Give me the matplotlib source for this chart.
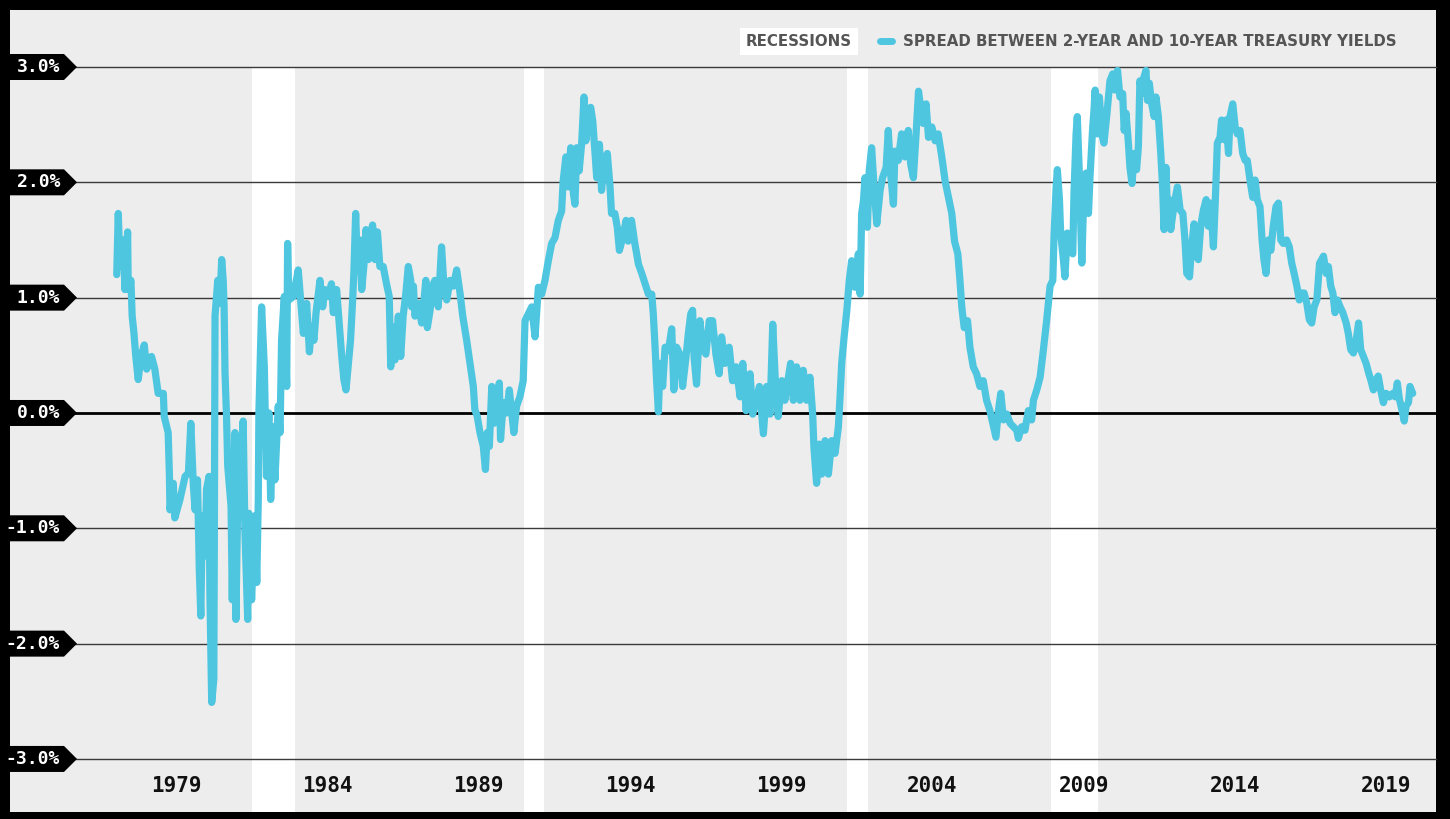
import matplotlib
matplotlib.use("Agg")
import matplotlib.pyplot as plt
from matplotlib.patches import Polygon, Rectangle
from matplotlib.lines import Line2D
import matplotlib.transforms as mtransforms

# spread between 2-year and 10-year treasury yields (percentage points)
spread_dates = [
    1977.03, 1977.08, 1977.14, 1977.25, 1977.30, 1977.39, 1977.41, 1977.50, 1977.54, 1977.60,
    1977.66, 1977.74, 1977.83, 1977.94, 1978.02, 1978.18, 1978.29, 1978.40, 1978.57, 1978.60,
    1978.73, 1978.77, 1978.79, 1978.90, 1978.95, 1979.12, 1979.29, 1979.40, 1979.48, 1979.56,
    1979.62, 1979.70, 1979.76, 1979.81, 1979.86, 1979.95, 1980.00, 1980.08, 1980.11, 1980.17,
    1980.24, 1980.26, 1980.28, 1980.37, 1980.44, 1980.50, 1980.55, 1980.58, 1980.61, 1980.66,
    1980.70, 1980.81, 1980.85, 1980.88, 1980.94, 1980.97, 1981.05, 1981.10, 1981.21, 1981.27,
    1981.36, 1981.40, 1981.49, 1981.60, 1981.66, 1981.71, 1981.73, 1981.82, 1981.91, 1981.98,
    1982.06, 1982.12, 1982.15, 1982.21, 1982.26, 1982.37, 1982.43, 1982.48, 1982.57, 1982.65,
    1982.68, 1982.72,
    1982.87, 1983.03, 1983.14, 1983.20, 1983.31, 1983.40, 1983.47, 1983.55, 1983.62, 1983.75,
    1983.84, 1983.91, 1984.02, 1984.13, 1984.19, 1984.30, 1984.41, 1984.47, 1984.54, 1984.61,
    1984.69, 1984.76, 1984.83, 1984.87, 1984.93, 1984.98, 1985.07, 1985.13, 1985.20, 1985.27,
    1985.35, 1985.40, 1985.49, 1985.57, 1985.65, 1985.73, 1985.84, 1985.95, 1986.04, 1986.09,
    1986.12, 1986.23, 1986.34, 1986.42, 1986.50, 1986.59, 1986.67, 1986.75, 1986.78, 1986.84,
    1986.89, 1987.00, 1987.11, 1987.19, 1987.25, 1987.30, 1987.39, 1987.47, 1987.55, 1987.66,
    1987.77, 1987.85, 1987.94, 1988.05, 1988.16, 1988.27, 1988.38, 1988.47, 1988.60, 1988.71,
    1988.82, 1988.87, 1988.95, 1989.04, 1989.15, 1989.22, 1989.28, 1989.35, 1989.43, 1989.50,
    1989.59, 1989.68, 1989.72, 1989.81, 1989.92, 1990.01, 1990.09, 1990.16, 1990.25, 1990.36,
    1990.47, 1990.53, 1990.64, 1990.75, 1990.86, 1990.97, 1991.08, 1991.19, 1991.30, 1991.41,
    1991.52, 1991.63, 1991.74, 1991.79, 1991.88, 1991.96, 1992.04, 1992.13, 1992.18, 1992.24,
    1992.32, 1992.40, 1992.48, 1992.54, 1992.62, 1992.70, 1992.77, 1992.84, 1992.90, 1992.99,
    1993.06, 1993.14, 1993.25, 1993.34, 1993.39, 1993.50, 1993.58, 1993.65, 1993.76, 1993.87,
    1993.94, 1994.05, 1994.16, 1994.28, 1994.39, 1994.50, 1994.61, 1994.72, 1994.77, 1994.83,
    1994.88, 1994.94, 1994.99, 1995.08, 1995.16, 1995.27, 1995.38, 1995.45, 1995.54, 1995.65,
    1995.74, 1995.85, 1995.93, 1996.01, 1996.07, 1996.12, 1996.20, 1996.31, 1996.40, 1996.51,
    1996.62, 1996.73, 1996.84, 1996.95, 1997.03, 1997.14, 1997.28, 1997.39, 1997.51, 1997.64,
    1997.73, 1997.84, 1997.97, 1998.06, 1998.17, 1998.28,
    1998.41, 1998.52, 1998.63, 1998.72, 1998.80, 1998.90, 1999.02, 1999.12, 1999.24, 1999.31,
    1999.40, 1999.51, 1999.62, 1999.73, 1999.84, 1999.95, 2000.04, 2000.08, 2000.17, 2000.26,
    2000.34, 2000.45, 2000.56, 2000.67, 2000.78, 2000.89, 2000.94, 2001.00, 2001.08, 2001.17,
    2001.25, 2001.33, 2001.44, 2001.55, 2001.61, 2001.66, 2001.72, 2001.77, 2001.85, 2001.91,
    2001.99, 2002.07, 2002.16, 2002.27, 2002.35, 2002.47, 2002.54, 2002.62, 2002.71, 2002.76,
    2002.87, 2002.98, 2003.09, 2003.20, 2003.28, 2003.37, 2003.46, 2003.54, 2003.61, 2003.70,
    2003.79, 2003.87, 2003.98, 2004.09, 2004.19, 2004.31, 2004.42, 2004.53, 2004.64, 2004.73,
    2004.84, 2004.91, 2004.97, 2005.05, 2005.16, 2005.24, 2005.35, 2005.46, 2005.57, 2005.68,
    2005.79, 2005.90, 2006.02, 2006.10, 2006.18, 2006.26, 2006.35, 2006.46, 2006.57, 2006.68,
    2006.79, 2006.84, 2006.95, 2007.06, 2007.17, 2007.28, 2007.34, 2007.45, 2007.56,
    2007.67, 2007.78, 2007.89, 2007.98, 2008.02, 2008.09, 2008.13, 2008.20, 2008.24, 2008.33,
    2008.38, 2008.46, 2008.55, 2008.64, 2008.68, 2008.75, 2008.79, 2008.86, 2008.94, 2008.99,
    2009.08, 2009.16, 2009.21, 2009.30, 2009.34, 2009.38, 2009.45, 2009.52, 2009.60, 2009.67,
    2009.76, 2009.87, 2009.96, 2010.04, 2010.12, 2010.20, 2010.29, 2010.34, 2010.40, 2010.48,
    2010.53, 2010.60, 2010.67, 2010.75, 2010.81, 2010.86, 2010.92, 2010.99, 2011.06, 2011.11,
    2011.17, 2011.25, 2011.33, 2011.39, 2011.47, 2011.55, 2011.61, 2011.66, 2011.72, 2011.77,
    2011.83, 2011.88, 2011.95, 2012.02, 2012.10, 2012.19, 2012.28, 2012.35, 2012.41, 2012.50,
    2012.57, 2012.65, 2012.72, 2012.79, 2012.87, 2012.96, 2013.05, 2013.12, 2013.20, 2013.29,
    2013.35, 2013.42, 2013.51, 2013.56, 2013.64, 2013.71, 2013.79, 2013.84, 2013.93, 2014.01,
    2014.08, 2014.17, 2014.26, 2014.34, 2014.41, 2014.50, 2014.59, 2014.67, 2014.74, 2014.83,
    2014.90, 2014.96, 2015.03, 2015.11, 2015.19, 2015.27, 2015.36, 2015.44, 2015.52, 2015.60,
    2015.71, 2015.80, 2015.88, 2015.96, 2016.05, 2016.13, 2016.21, 2016.29, 2016.38, 2016.46,
    2016.54, 2016.62, 2016.71, 2016.80, 2016.87, 2016.93, 2017.02, 2017.09, 2017.17, 2017.24,
    2017.31, 2017.39, 2017.48, 2017.57, 2017.68, 2017.75, 2017.83, 2017.92, 2018.01, 2018.09,
    2018.16, 2018.25, 2018.34, 2018.42, 2018.49, 2018.58, 2018.67, 2018.74, 2018.82, 2018.91,
    2019.00, 2019.11, 2019.22, 2019.30, 2019.37, 2019.44, 2019.52, 2019.60, 2019.66, 2019.74,
    2019.79, 2019.88,
]
spread_pct = [
    1.20, 1.73, 1.27, 1.50, 1.07, 1.57, 1.07, 1.15, 0.84, 0.69,
    0.49, 0.29, 0.49, 0.59, 0.38, 0.49, 0.38, 0.17, 0.17, -0.03,
    -0.17, -0.52, -0.84, -0.61, -0.91, -0.75, -0.55, -0.52, -0.09, -0.61,
    -0.84, -0.58, -1.36, -1.76, -0.89, -1.24, -0.66, -0.55, -1.56, -2.51,
    -2.31, -0.89, 0.84, 1.15, 0.95, 1.33, 1.15, 0.92, 0.35, -0.03,
    -0.46, -0.81, -1.62, -1.04, -0.17, -1.79, -0.46, -0.75, -0.07, -1.04,
    -1.79, -0.87, -1.62, -0.89, -1.47, -0.75, 0.00, 0.92, 0.40, -0.55,
    0.00, -0.75, -0.52, -0.12, -0.58, 0.06, -0.17, 0.63, 1.01, 0.23,
    1.47, 0.98,
    1.01, 1.24, 0.89, 0.69, 0.95, 0.53, 0.75, 0.63, 0.87, 1.15,
    0.92, 1.07, 1.01, 1.12, 0.87, 1.07, 0.69, 0.49, 0.29, 0.20,
    0.43, 0.63, 0.98, 1.21, 1.73, 1.33, 1.50, 1.07, 1.27, 1.59,
    1.33, 1.53, 1.63, 1.33, 1.57, 1.27, 1.27, 1.12, 1.01, 0.40,
    0.75, 0.46, 0.84, 0.49, 0.84, 1.04, 1.27, 1.15, 0.92, 1.10,
    0.84, 0.95, 0.78, 0.98, 1.15, 0.74, 0.89, 1.10, 1.15, 0.92,
    1.44, 1.10, 0.98, 1.15, 1.10, 1.24, 1.04, 0.84, 0.63, 0.43,
    0.23, 0.03, -0.03, -0.17, -0.29, -0.49, -0.17, -0.29, 0.23, -0.09,
    0.06, 0.26, -0.23, 0.09, 0.00, 0.20, 0.00, -0.17, 0.06, 0.14,
    0.28, 0.80, 0.86, 0.92, 0.66, 1.09, 1.03, 1.15, 1.32, 1.47,
    1.52, 1.67, 1.75, 2.01, 2.22, 1.96, 2.30, 1.90, 1.81, 2.30,
    2.10, 2.33, 2.74, 2.36, 2.56, 2.65, 2.53, 2.27, 2.04, 2.33,
    1.93, 2.16, 2.25, 1.96, 1.73, 1.73, 1.61, 1.41, 1.52, 1.67,
    1.49, 1.67, 1.47, 1.29, 1.21, 1.12, 1.03, 1.03, 0.86, 0.57,
    0.28, 0.01, 0.43, 0.23, 0.57, 0.54, 0.73, 0.20, 0.57, 0.51,
    0.23, 0.48, 0.69, 0.86, 0.89, 0.48, 0.25, 0.80, 0.57, 0.51,
    0.80, 0.80, 0.51, 0.34, 0.66, 0.43, 0.57, 0.28, 0.40, 0.14,
    0.43, 0.02, 0.34, -0.01, 0.11, 0.23,
    -0.18, 0.23, -0.01, 0.77, 0.31, -0.03, 0.28, 0.11, 0.31, 0.43,
    0.11, 0.40, 0.11, 0.37, 0.11, 0.31, -0.01, -0.29, -0.61, -0.27,
    -0.53, -0.24, -0.53, -0.24, -0.35, -0.12, 0.11, 0.43, 0.66, 0.89,
    1.15, 1.32, 1.09, 1.38, 1.03, 1.73, 1.84, 2.04, 1.61, 2.10,
    2.30, 1.96, 1.64, 1.93, 2.04, 2.13, 2.45, 2.07, 1.81, 2.27,
    2.19, 2.42, 2.22, 2.45, 2.16, 2.04, 2.42, 2.79, 2.65, 2.51,
    2.68, 2.39, 2.48, 2.36, 2.42, 2.22, 2.01, 1.87, 1.73, 1.49,
    1.38, 1.15, 0.92, 0.74, 0.80, 0.57, 0.40, 0.34, 0.23, 0.28,
    0.11, 0.02, -0.12, -0.21, 0.02, 0.17, -0.06, -0.01, -0.09, -0.12,
    -0.15, -0.22, -0.12, -0.15, 0.02, -0.06, 0.11, 0.20, 0.31,
    0.55, 0.81, 1.10, 1.15, 1.53, 1.96, 2.11, 1.85, 1.56, 1.33,
    1.18, 1.56, 1.44, 1.38, 1.90, 2.42, 2.57, 2.05, 1.30, 1.76,
    2.08, 1.73, 2.05, 2.48, 2.62, 2.80, 2.42, 2.74, 2.42, 2.34,
    2.57, 2.88, 2.94, 2.80, 2.97, 2.74, 2.77, 2.45, 2.60, 2.34,
    2.13, 1.99, 2.25, 2.11, 2.31, 2.88, 2.77, 2.91, 2.97, 2.71,
    2.86, 2.68, 2.57, 2.74, 2.57, 2.25, 1.96, 1.59, 2.13, 1.76,
    1.85, 1.59, 1.73, 1.85, 1.96, 1.76, 1.73, 1.50, 1.21, 1.18,
    1.44, 1.64, 1.38, 1.33, 1.62, 1.76, 1.85, 1.62, 1.82, 1.44,
    1.82, 2.34, 2.39, 2.54, 2.37, 2.54, 2.25, 2.57, 2.68, 2.48,
    2.42, 2.45, 2.25, 2.19, 2.19, 2.02, 1.87, 2.02, 1.85, 1.79,
    1.50, 1.33, 1.21, 1.50, 1.41, 1.62, 1.79, 1.82, 1.50, 1.47,
    1.50, 1.44, 1.30, 1.21, 1.10, 0.98, 1.04, 1.04, 0.95, 0.81,
    0.78, 0.92, 0.98, 1.30, 1.33, 1.36, 1.21, 1.27, 1.10, 1.04,
    0.87, 0.98, 0.92, 0.87, 0.78, 0.69, 0.55, 0.52, 0.63, 0.78,
    0.55, 0.49, 0.43, 0.35, 0.29, 0.20, 0.29, 0.32, 0.20, 0.09,
    0.17, 0.14, 0.17, 0.14, 0.26, 0.12, 0.03, -0.07, 0.06, 0.09,
    0.23, 0.17,
]

# recessions shown as white bands
recession_start = [1981.50, 1990.50, 2001.17, 2007.92]
recession_end = [1982.92, 1991.17, 2001.87, 2009.46]

year_ticks = [1979, 1984, 1989, 1994, 1999, 2004, 2009, 2014, 2019]
pct_ticks = [3, 2, 1, 0, -1, -2, -3]

W, H = 1450, 819
BG = "#ededed"
LINE = "#4fc6e0"
TXT = "#555555"

fig = plt.figure(figsize=(W / 100, H / 100), dpi=100, facecolor="black")
fig.add_artist(Rectangle((10 / W, 1 - 812 / H), 1426 / W, 802 / H,
                         transform=fig.transFigure, facecolor=BG, edgecolor="none", zorder=0))

ax = fig.add_axes([75 / W, 1 - 812 / H, (1436 - 75) / W, (812 - 67) / H])
ax.set_facecolor(BG)
ax.set_xlim(1975.65, 2020.65)
ax.set_ylim(-3.46, 3.0)
for s in ax.spines.values():
    s.set_visible(False)

for a, b in zip(recession_start, recession_end):
    ax.axvspan(a, b, color="white", lw=0, zorder=1)

for v in pct_ticks:
    if v == 0:
        ax.axhline(v, color="black", lw=2.0, zorder=2, clip_on=False)
    else:
        ax.axhline(v, color="#3a3a3a", lw=1.0, zorder=2, clip_on=False)

ax.plot(spread_dates, spread_pct, color=LINE, lw=5.2, solid_joinstyle="round",
        solid_capstyle="round", zorder=3, clip_on=False)

# x axis labels sit inside the plot area
ax.set_yticks([])
ax.set_xticks(year_ticks)
ax.set_xticklabels([str(y) for y in year_ticks], fontfamily="DejaVu Sans Mono",
                   fontweight="bold", fontsize=15, color="#111111")
ax.tick_params(axis="x", length=0, pad=-26)

# black arrow-shaped y labels on the left
blend = mtransforms.blended_transform_factory(fig.transFigure, ax.transData)
half = 13 / 115.3
for v in pct_ticks:
    verts = [(8 / W, v + half), (64 / W, v + half), (77 / W, v),
             (64 / W, v - half), (8 / W, v - half)]
    ax.add_patch(Polygon(verts, closed=True, transform=blend, facecolor="black",
                         edgecolor="none", clip_on=False, zorder=5))
    ax.text(60 / W, v, f"{v:.1f}%", transform=blend, ha="right", va="center",
            color="white", fontfamily="DejaVu Sans Mono", fontweight="bold",
            fontsize=13, zorder=6, clip_on=False)

# legend above the plot
fig.text(799 / W, 1 - 41 / H, "RECESSIONS", ha="center", va="center", color=TXT,
         fontsize=10.8, fontweight="bold",
         bbox=dict(facecolor="white", edgecolor="none", boxstyle="square,pad=0.4"))
fig.add_artist(Line2D([880 / W, 892 / W], [1 - 41 / H, 1 - 41 / H], color=LINE, lw=5,
                      solid_capstyle="round", transform=fig.transFigure))
fig.text(903 / W, 1 - 41 / H, "SPREAD BETWEEN 2-YEAR AND 10-YEAR TREASURY YIELDS",
         ha="left", va="center", color=TXT, fontsize=10.8, fontweight="bold")

fig.savefig("out.png", dpi=100, facecolor="black")
